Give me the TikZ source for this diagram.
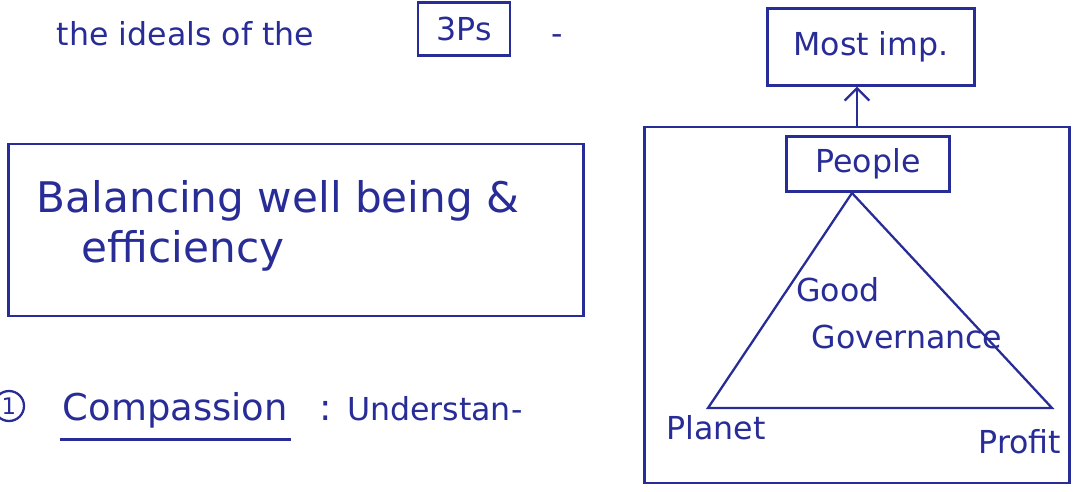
\documentclass[tikz,border=0pt]{standalone}
\usepackage{fontspec}
\setmainfont{DejaVu Sans}
\usepackage{tikz}
\usetikzlibrary{positioning}
\usetikzlibrary{arrows.meta}
\definecolor{ink}{RGB}{40,44,150}

\begin{document}
\begin{tikzpicture}[x=0.02cm, y=-0.02cm, ink, line width=1.3pt,
    box/.style={draw, inner sep=0pt},
    big hand/.style={font=\fontsize{24}{28}\selectfont},
    hand/.style={font=\fontsize{21}{25}\selectfont},
    small hand/.style={font=\fontsize{18}{22}\selectfont}]
    \useasboundingbox (0,0) rectangle (1088,491);

    \node[small hand, anchor=base west] (title) at (50,45) {the ideals of the};
    \node[box, small hand, minimum width=1.84cm, minimum height=1.06cm] (ps) at (464,29) {3Ps};
    \node[small hand] (endmark) at (557,40) {-};

    \node[box, minimum width=11.5cm, minimum height=3.44cm] (wellbox) at (296,230) {};
    \node[big hand, anchor=base west] (bal) at (30,212) {Balancing well being \&};
    \node[big hand, anchor=base west] (eff) at (75,262) {efficiency};

    \node[draw, circle, minimum size=0.6cm, inner sep=0pt, font=\fontsize{13}{15}\selectfont] (num) at (9,406) {1};
    \node[hand, anchor=base west, inner sep=1pt] (comp) at (60,420) {Compassion};
    \node[hand, anchor=base west] (colon) at (312,420) {:};
    \node[small hand, anchor=base west] (under) at (340,420) {Understan-};
    \draw[] ([yshift=-5pt]comp.south west) -- ([yshift=-5pt]comp.south east);

    \node[box, small hand, minimum width=4.14cm, minimum height=1.54cm] (mostimp) at (871,47) {Most imp.};
    \node[box, minimum width=8.5cm, minimum height=7.12cm] (frame) at (857,305) {};
    \node[box, small hand, minimum width=3.26cm, minimum height=1.1cm] (people) at (868,164) {People};
    \draw[-{Straight Barb[length=7pt,width=14pt]}] (frame.north) -- (mostimp.south -| frame.north);

    \coordinate (apex) at (852,193);
    \coordinate (left) at (708,408);
    \coordinate (right) at (1052,408);
    \draw[] (apex) -- (left) -- (right) -- cycle;

    \node[small hand] (good) at (838,290) {Good};
    \node[small hand] (gov) at (907,337) {Governance};
    \node[small hand] (planet) at (716,428) {Planet};
    \node[small hand] (profit) at (1020,442) {Profit};
\end{tikzpicture}
\end{document}
